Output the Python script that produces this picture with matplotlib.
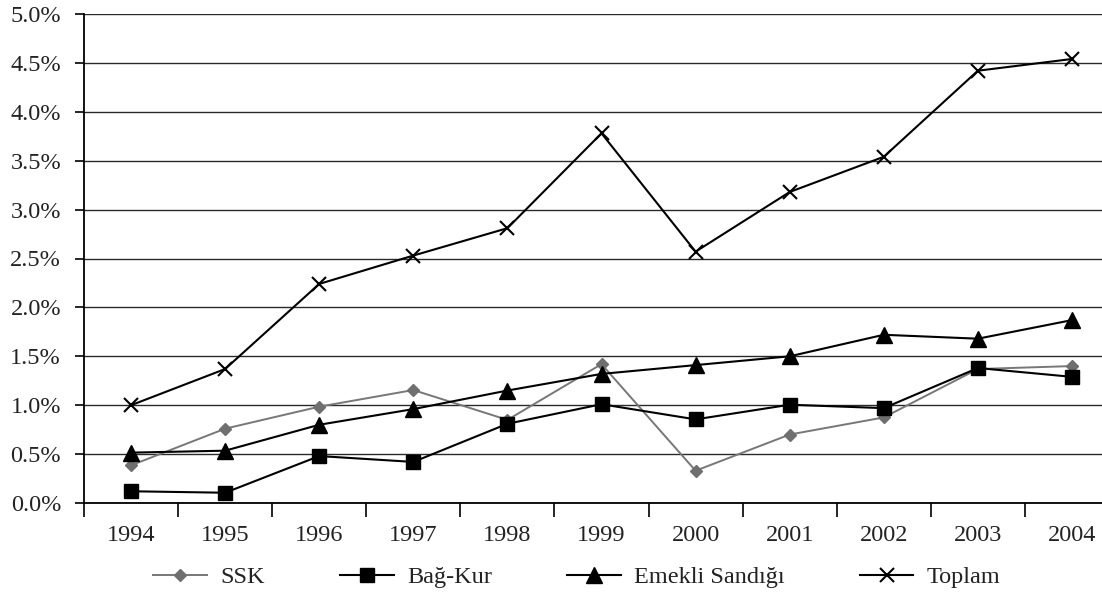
import matplotlib
matplotlib.use("Agg")
import matplotlib.pyplot as plt
from matplotlib.ticker import FuncFormatter, MultipleLocator, FixedLocator

plt.rcParams['font.family'] = ['Liberation Serif', 'DejaVu Serif']

years = ['1994', '1995', '1996', '1997', '1998', '1999', '2000', '2001', '2002', '2003', '2004']

# shares in percent
ssk = [0.385, 0.76, 0.985, 1.155, 0.85, 1.42, 0.33, 0.70, 0.875, 1.37, 1.40]
bagkur = [0.12, 0.105, 0.48, 0.42, 0.81, 1.01, 0.855, 1.005, 0.97, 1.38, 1.29]
emekli = [0.515, 0.535, 0.80, 0.96, 1.15, 1.32, 1.41, 1.50, 1.72, 1.68, 1.87]
toplam = [1.00, 1.37, 2.24, 2.53, 2.81, 3.78, 2.57, 3.18, 3.54, 4.42, 4.54]

fig = plt.figure(figsize=(11.02, 6.0), dpi=100)
ax = fig.add_axes([84 / 1102, 97 / 600, 1035 / 1102, 489 / 600])

x = list(range(len(years)))
ax.plot(x, ssk, color='#777777', lw=1.4, marker='D', ms=6.2,
        mfc='#6f6f6f', mec='#6f6f6f', label='SSK', zorder=3)
ax.plot(x, bagkur, color='black', lw=1.5, marker='s', ms=9.5,
        mfc='black', mec='black', label='Bağ-Kur', zorder=4)
ax.plot(x, emekli, color='black', lw=1.5, marker='^', ms=11.5,
        mfc='black', mec='black', label='Emekli Sandığı', zorder=4)
ax.plot(x, toplam, color='black', lw=1.5, marker='x', ms=10.5,
        mew=1.5, label='Toplam', zorder=4)

ax.set_xlim(-0.5, 10.5)
ax.set_ylim(0, 5)

ax.yaxis.set_major_locator(MultipleLocator(0.5))
ax.yaxis.set_major_formatter(FuncFormatter(lambda v, p: f'{v:.1f}%'))
ax.grid(axis='y', color='#2a2a2a', lw=1.0)
ax.set_axisbelow(True)

ax.set_xticks(x)
ax.set_xticklabels(years)
ax.xaxis.set_minor_locator(FixedLocator([i - 0.5 for i in range(len(years) + 1)]))
ax.tick_params(axis='x', which='major', length=0, pad=16)
ax.tick_params(axis='x', which='minor', length=10, width=1.2, color='black')
ax.tick_params(axis='y', length=6.5, width=1.2, pad=10)
ax.tick_params(labelsize=17.5, labelcolor='#222222')

for side in ['top', 'right']:
    ax.spines[side].set_visible(False)
ax.spines['left'].set_linewidth(1.3)
ax.spines['bottom'].set_linewidth(1.3)

fig.legend(loc='center', bbox_to_anchor=(577 / 1102, 1 - 577 / 600), ncol=4,
           frameon=False, fontsize=17.5, handlelength=2.2, handletextpad=0.55,
           columnspacing=3.1, labelcolor='#222222')

fig.savefig('out.png', dpi=100)
